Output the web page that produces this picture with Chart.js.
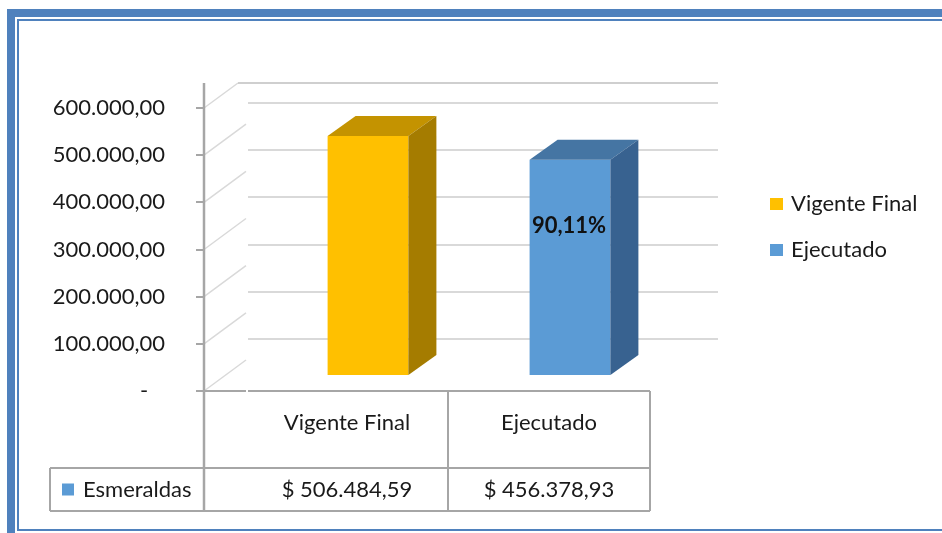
<!DOCTYPE html>
<html>
<head>
<meta charset="utf-8">
<script src="https://cdn.jsdelivr.net/npm/chart.js@4.4.1/dist/chart.umd.min.js"></script>
<style>
  html, body { margin: 0; padding: 0; background: #fff; }
  #wrap { width: 942px; height: 533px; }
</style>
</head>
<body>
<div id="wrap"><canvas id="chart" width="942" height="533"></canvas></div>
<script>
// data
const categories = ['Vigente Final', 'Ejecutado'];
const seriesName = 'Esmeraldas';
const values = [506484.59, 456378.93];
const yTicks = [0, 100000, 200000, 300000, 400000, 500000, 600000];

// colours: front, top, side
const frontColors = ['#FFC000', '#5B9BD5'];
const topColors = ['#C49300', '#4575A3'];
const sideColors = ['#A57C00', '#386290'];
const FONT = 'Lato, "Noto Sans", sans-serif';
const TEXT = '#1a1a1a';
const FRAME = '#4F81BD';

function fmtNum(v) {
    const fixed = v.toFixed(2).split('.');
    const int = fixed[0].replace(/\B(?=(\d{3})+(?!\d))/g, '.');
    return int + ',' + fixed[1];
}

// 3D offsets
const WALL_DX = 42, WALL_DY = 31;   // side wall depth
const BAR_DX = 28, BAR_DY = 20;     // bar depth
const SHIFT_X = 21, SHIFT_Y = -16;  // bars sit halfway into the floor

const wallsPlugin = {
    id: 'walls',
    beforeDatasetsDraw(chart) {
        const ctx = chart.ctx, a = chart.chartArea, y = chart.scales.y;
        const front = a.left - WALL_DX;
        const topY = y.getPixelForValue(yTicks[yTicks.length - 1]) - 25;
        ctx.save();
        // back wall gridlines
        ctx.strokeStyle = '#d9d9d9';
        ctx.lineWidth = 2;
        yTicks.slice(1).forEach(v => {
            const py = Math.round(y.getPixelForValue(v) - 5);
            ctx.beginPath(); ctx.moveTo(a.left + 2, py); ctx.lineTo(a.right + 68, py); ctx.stroke();
        });
        // side wall diagonals
        ctx.lineWidth = 1.5;
        yTicks.forEach((v, i) => {
            const py = y.getPixelForValue(v);
            ctx.beginPath();
            ctx.moveTo(front, py);
            if (i === yTicks.length - 1) ctx.lineTo(front + 34, topY);
            else ctx.lineTo(front + WALL_DX, py - WALL_DY);
            ctx.stroke();
        });
        // top edge of back wall
        ctx.strokeStyle = '#bfbfbf';
        ctx.lineWidth = 1.5;
        ctx.beginPath(); ctx.moveTo(front + 34, topY); ctx.lineTo(a.right + 68, topY); ctx.stroke();
        // vertical axis + tick marks
        ctx.strokeStyle = '#a6a6a6';
        ctx.lineWidth = 2.5;
        ctx.beginPath(); ctx.moveTo(front, topY); ctx.lineTo(front, a.bottom + 120); ctx.stroke();
        ctx.lineWidth = 2;
        yTicks.forEach(v => {
            const py = Math.round(y.getPixelForValue(v));
            ctx.beginPath(); ctx.moveTo(front - 8, py); ctx.lineTo(front, py); ctx.stroke();
        });
        ctx.restore();

        // bars are shifted into the depth of the floor
        ctx.save();
        ctx.translate(SHIFT_X, SHIFT_Y);
    },
    afterDatasetsDraw(chart) {
        const ctx = chart.ctx;
        const meta = chart.getDatasetMeta(0);
        meta.data.forEach((bar, i) => {
            const p = bar.getProps(['x', 'y', 'width', 'base'], true);
            const l = p.x - p.width / 2, r = p.x + p.width / 2;
            ctx.fillStyle = topColors[i];
            ctx.beginPath();
            ctx.moveTo(l, p.y); ctx.lineTo(l + BAR_DX, p.y - BAR_DY);
            ctx.lineTo(r + BAR_DX, p.y - BAR_DY); ctx.lineTo(r, p.y);
            ctx.closePath(); ctx.fill();
            ctx.fillStyle = sideColors[i];
            ctx.beginPath();
            ctx.moveTo(r, p.y); ctx.lineTo(r + BAR_DX, p.y - BAR_DY);
            ctx.lineTo(r + BAR_DX, p.base - BAR_DY); ctx.lineTo(r, p.base);
            ctx.closePath(); ctx.fill();
        });
        // percentage executed
        const last = meta.data[1].getProps(['x', 'y'], true);
        const pct = (values[1] / values[0] * 100).toFixed(2).replace('.', ',') + '%';
        ctx.fillStyle = '#111';
        ctx.font = 'bold 22px ' + FONT;
        ctx.textAlign = 'center';
        ctx.textBaseline = 'middle';
        ctx.fillText(pct, last.x - 1, last.y + 66);
        ctx.restore();
    },
    afterDraw(chart) {
        const ctx = chart.ctx, a = chart.chartArea, x = chart.scales.x;
        const front = a.left - WALL_DX;
        const mid = (x.getPixelForValue(0) + x.getPixelForValue(1)) / 2;
        const rowTop = 468, rowBot = 511, tblLeft = 50;
        ctx.save();
        // data table lines
        ctx.strokeStyle = '#a6a6a6';
        ctx.lineWidth = 2;
        const seg = (x1, y1, x2, y2) => { ctx.beginPath(); ctx.moveTo(x1, y1); ctx.lineTo(x2, y2); ctx.stroke(); };
        seg(front, a.bottom, a.left, a.bottom);
        seg(a.left + 2, a.bottom, a.right, a.bottom);
        seg(mid, a.bottom, mid, rowBot);
        seg(a.right, a.bottom, a.right, rowBot);
        seg(tblLeft, rowTop, a.right, rowTop);
        seg(tblLeft, rowBot, a.right, rowBot);
        seg(tblLeft, rowTop, tblLeft, rowBot);
        // table row
        ctx.font = '22px ' + FONT;
        ctx.textBaseline = 'middle';
        const rowMid = (rowTop + rowBot) / 2;
        ctx.fillStyle = '#5B9BD5';
        ctx.fillRect(tblLeft + 12, rowMid - 6, 12, 12);
        ctx.fillStyle = TEXT;
        ctx.textAlign = 'left';
        ctx.fillText(seriesName, tblLeft + 33, rowMid);
        ctx.textAlign = 'center';
        values.forEach((v, i) => ctx.fillText('$ ' + fmtNum(v), x.getPixelForValue(i), rowMid));
        // legend
        categories.forEach((c, i) => {
            const ly = 204 + i * 46;
            ctx.fillStyle = frontColors[i];
            ctx.fillRect(770, ly - 6, 13, 12);
            ctx.fillStyle = TEXT;
            ctx.textAlign = 'left';
            ctx.fillText(c, 791, ly);
        });
        // frame
        ctx.fillStyle = FRAME;
        ctx.fillRect(7, 9, 935, 8);
        ctx.fillRect(7, 9, 8, 524);
        ctx.fillRect(17, 19, 925, 2);
        ctx.fillRect(17, 19, 2, 512);
        ctx.fillRect(17, 529, 925, 2);
        ctx.restore();
    }
};

new Chart(document.getElementById('chart'), {
    type: 'bar',
    data: {
        labels: categories,
        datasets: [{
            label: seriesName,
            data: values,
            backgroundColor: frontColors,
            barPercentage: 0.4,
            categoryPercentage: 1,
            clip: false
        }]
    },
    options: {
        responsive: false,
        animation: false,
        layout: { padding: { top: 108, right: 292, bottom: 0, left: 0 } },
        scales: {
            x: {
                grid: { display: false, drawTicks: false },
                border: { display: false },
                ticks: { color: TEXT, font: { family: FONT, size: 22 }, padding: 19, maxRotation: 0 },
                afterFit(scale) { scale.height = 142; }
            },
            y: {
                min: 0,
                max: 600000,
                grid: { display: false, drawTicks: false },
                border: { display: false },
                afterBuildTicks(scale) { scale.ticks = yTicks.map(v => ({ value: v })); },
                ticks: {
                    color: TEXT,
                    font: { family: FONT, size: 22 },
                    padding: 81,
                    callback: v => v === 0 ? '-   ' : fmtNum(v)
                },
                afterFit(scale) { scale.width = 246; }
            }
        },
        plugins: {
            legend: { display: false },
            tooltip: { enabled: false }
        }
    },
    plugins: [wallsPlugin]
});
</script>
</body>
</html>
